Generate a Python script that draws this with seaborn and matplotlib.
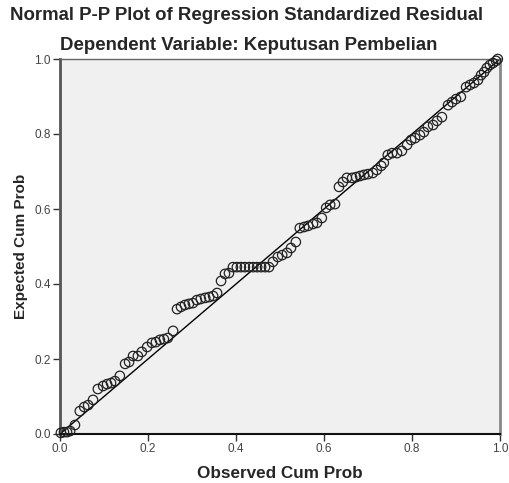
import matplotlib
matplotlib.use("Agg")
import matplotlib.pyplot as plt
import seaborn as sns
import pandas as pd

observed_cum_prob = [
    0.002, 0.009, 0.016, 0.023, 0.034, 0.045, 0.055, 0.064, 0.075, 0.086,
    0.098, 0.107, 0.116, 0.125, 0.136, 0.148, 0.157, 0.166, 0.177, 0.186,
    0.198, 0.209, 0.218, 0.227, 0.236, 0.245, 0.257, 0.266, 0.275, 0.284,
    0.293, 0.302, 0.311, 0.320, 0.330, 0.339, 0.348, 0.357, 0.366, 0.375,
    0.384, 0.393, 0.402, 0.411, 0.420, 0.430, 0.439, 0.448, 0.457, 0.466,
    0.475, 0.484, 0.495, 0.505, 0.516, 0.525, 0.536, 0.545, 0.555, 0.564,
    0.575, 0.584, 0.595, 0.605, 0.614, 0.625, 0.634, 0.643, 0.652, 0.664,
    0.673, 0.682, 0.691, 0.700, 0.711, 0.720, 0.730, 0.736, 0.745, 0.755,
    0.766, 0.777, 0.789, 0.798, 0.807, 0.818, 0.827, 0.836, 0.848, 0.857,
    0.868, 0.882, 0.891, 0.900, 0.911, 0.923, 0.932, 0.941, 0.950, 0.957,
    0.964, 0.970, 0.977, 0.984, 0.991, 0.995,
]
expected_cum_prob = [
    0.003, 0.005, 0.005, 0.008, 0.024, 0.061, 0.072, 0.077, 0.091, 0.120,
    0.128, 0.133, 0.136, 0.141, 0.155, 0.187, 0.192, 0.208, 0.208, 0.219,
    0.232, 0.243, 0.245, 0.251, 0.253, 0.256, 0.275, 0.333, 0.339, 0.344,
    0.347, 0.349, 0.357, 0.360, 0.363, 0.365, 0.368, 0.376, 0.408, 0.427,
    0.429, 0.445, 0.445, 0.445, 0.445, 0.445, 0.445, 0.445, 0.445, 0.445,
    0.445, 0.459, 0.472, 0.477, 0.483, 0.496, 0.512, 0.549, 0.552, 0.555,
    0.560, 0.563, 0.576, 0.603, 0.611, 0.613, 0.659, 0.672, 0.683, 0.683,
    0.685, 0.688, 0.691, 0.693, 0.696, 0.704, 0.715, 0.723, 0.744, 0.749,
    0.749, 0.755, 0.771, 0.784, 0.789, 0.797, 0.805, 0.819, 0.824, 0.835,
    0.845, 0.877, 0.885, 0.893, 0.899, 0.925, 0.931, 0.936, 0.944, 0.957,
    0.965, 0.976, 0.984, 0.989, 0.995, 1.000,
]
reference_line = [0.0, 1.0]
tick_values = [0.0, 0.2, 0.4, 0.6, 0.8, 1.0]
tick_labels = ["0.0", "0.2", "0.4", "0.6", "0.8", "1.0"]

title = "Normal P-P Plot of Regression Standardized Residual"
subtitle = "Dependent Variable: Keputusan Pembelian"
x_label = "Observed Cum Prob"
y_label = "Expected Cum Prob"

sns.set_style("white")
plt.rcParams["font.family"] = ["Liberation Sans", "DejaVu Sans"]

df = pd.DataFrame({"observed": observed_cum_prob, "expected": expected_cum_prob})

fig = plt.figure(figsize=(5.10, 4.83), dpi=100)
ax = fig.add_axes([60 / 510, 1 - 434 / 483, 440 / 510, 375 / 483])
ax.set_facecolor("#f0f0f0")

ax.plot(reference_line, reference_line, color="black", lw=1.0, zorder=2)
sns.scatterplot(data=df, x="observed", y="expected", ax=ax,
                marker="o", s=46, facecolor="none", edgecolor="#222222",
                linewidth=0.9, zorder=3, clip_on=False)

ax.set_xlim(0, 1)
ax.set_ylim(0, 1)
ax.set_xticks(tick_values)
ax.set_xticklabels(tick_labels)
ax.set_yticks(tick_values)
ax.set_yticklabels(tick_labels)
ax.tick_params(axis="both", direction="out", length=5, width=1,
               color="#333333", labelsize=8.5, labelcolor="#444444",
               bottom=True, left=True, pad=1.5)

ax.spines["left"].set_color("#555555")
ax.spines["left"].set_linewidth(2.0)
ax.spines["bottom"].set_color("#111111")
ax.spines["bottom"].set_linewidth(1.5)
ax.spines["top"].set_color("#666666")
ax.spines["top"].set_linewidth(1.0)
ax.spines["right"].set_color("#888888")
ax.spines["right"].set_linewidth(2.0)

ax.set_xlabel(x_label, fontsize=12.3, fontweight="bold", labelpad=8)
ax.set_ylabel(y_label, fontsize=11, fontweight="bold", labelpad=5)

fig.text(10 / 510, 1 - 16 / 483, title, fontsize=13.4, fontweight="bold",
         ha="left", va="center")
fig.text(249 / 510, 1 - 46 / 483, subtitle, fontsize=13.4, fontweight="bold",
         ha="center", va="center")

fig.savefig("out.png", dpi=100)
